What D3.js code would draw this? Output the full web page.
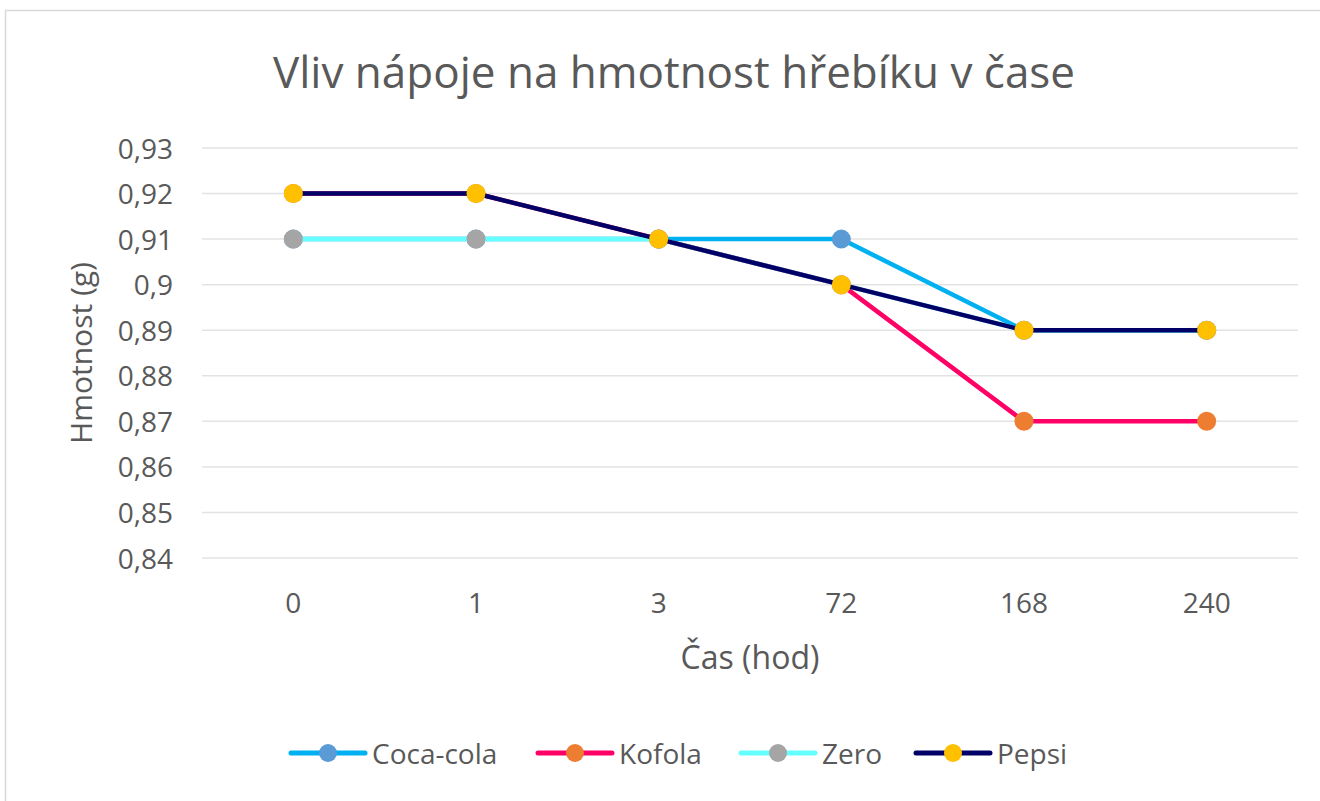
<!DOCTYPE html>
<html>
<head>
<meta charset="utf-8">
<script src="https://cdn.jsdelivr.net/npm/d3@7"></script>
<style>
  body { margin: 0; background: #fff; }
  text { font-family: "Open Sans", "Liberation Sans", sans-serif; fill: #595959; }
</style>
</head>
<body>
<div id="chart"></div>
<script>
// Data
var hours = ["0", "1", "3", "72", "168", "240"];
var cocaCola = [0.91, 0.91, 0.91, 0.91, 0.89, 0.89];
var kofola = [0.92, 0.92, 0.91, 0.90, 0.87, 0.87];
var zero = [0.91, 0.91, 0.91, 0.90, 0.89, 0.89];
var pepsi = [0.92, 0.92, 0.91, 0.90, 0.89, 0.89];
var yTicks = [0.84, 0.85, 0.86, 0.87, 0.88, 0.89, 0.90, 0.91, 0.92, 0.93];

var seriesNames = ["Coca-cola", "Kofola", "Zero", "Pepsi"];
var seriesValues = [cocaCola, kofola, zero, pepsi];
var lineColors = ["#00B0F0", "#FF0066", "#66FFFF", "#000066"];
var markerColors = ["#5B9BD5", "#ED7D31", "#A5A5A5", "#FFC000"];

var width = 1320, height = 801;
var plot = { left: 202, right: 1298, top: 148, bottom: 558 };

var svg = d3.select("#chart")
    .append("svg")
    .attr("width", width)
    .attr("height", height);

// chart frame
svg.append("rect")
    .attr("x", 5.5)
    .attr("y", 10.5)
    .attr("width", 1340)
    .attr("height", 800)
    .attr("fill", "#fff")
    .attr("stroke", "#D9D9D9")
    .attr("stroke-width", 1.5);

var x = d3.scaleBand()
    .domain(hours)
    .range([plot.left, plot.right]);

var y = d3.scaleLinear()
    .domain([0.84, 0.93])
    .range([plot.bottom, plot.top]);

// gridlines
svg.append("g")
    .selectAll("line")
    .data(yTicks)
    .enter()
    .append("line")
    .attr("x1", plot.left)
    .attr("x2", plot.right)
    .attr("y1", function(d) { return y(d); })
    .attr("y2", function(d) { return y(d); })
    .attr("stroke", "#E3E3E3")
    .attr("stroke-width", 1.5);

// y axis labels
var fmt = function(d) { return d3.format(".2~f")(d).replace(".", ","); };
var yAxis = svg.append("g")
    .attr("transform", "translate(" + (plot.left - 29) + ",0)")
    .call(d3.axisLeft(y).tickValues(yTicks).tickFormat(fmt).tickSize(0).tickPadding(0));
yAxis.select(".domain").remove();
yAxis.selectAll("text")
    .attr("dy", 10)
    .style("font-size", "28px")
    .style("fill", "#595959")
    .style("font-family", null);

// x axis labels
var xAxis = svg.append("g")
    .attr("transform", "translate(0," + (plot.bottom + 55) + ")")
    .call(d3.axisBottom(x).tickSize(0).tickPadding(0));
xAxis.select(".domain").remove();
xAxis.selectAll("text")
    .attr("dy", 0)
    .style("font-size", "28px")
    .style("fill", "#595959")
    .style("font-family", null);

// titles
svg.append("text")
    .attr("x", 674)
    .attr("y", 88)
    .attr("text-anchor", "middle")
    .style("font-size", "44px")
    .text("Vliv nápoje na hmotnost hřebíku v čase");

svg.append("text")
    .attr("x", (plot.left + plot.right) / 2)
    .attr("y", 669)
    .attr("text-anchor", "middle")
    .style("font-size", "32px")
    .text("Čas (hod)");

svg.append("text")
    .attr("transform", "translate(92," + ((plot.top + plot.bottom) / 2) + ") rotate(-90)")
    .attr("text-anchor", "middle")
    .style("font-size", "30px")
    .text("Hmotnost (g)");

// lines and markers
var line = d3.line()
    .x(function(d, i) { return x(hours[i]) + x.bandwidth() / 2; })
    .y(function(d) { return y(d); });

seriesValues.forEach(function(vals, s) {
    var g = svg.append("g");
    g.append("path")
        .datum(vals)
        .attr("d", line)
        .attr("fill", "none")
        .attr("stroke", lineColors[s])
        .attr("stroke-width", 4.5)
        .attr("stroke-linejoin", "round");
    g.selectAll("circle")
        .data(vals)
        .enter()
        .append("circle")
        .attr("cx", function(d, i) { return x(hours[i]) + x.bandwidth() / 2; })
        .attr("cy", function(d) { return y(d); })
        .attr("r", 9.5)
        .attr("fill", markerColors[s]);
});

// legend
var legendX = [291, 538, 741, 916];
var legend = svg.append("g").attr("transform", "translate(0,753)");
seriesNames.forEach(function(name, s) {
    var item = legend.append("g").attr("transform", "translate(" + legendX[s] + ",0)");
    item.append("line")
        .attr("x1", 0).attr("x2", 74)
        .attr("y1", 0).attr("y2", 0)
        .attr("stroke", lineColors[s])
        .attr("stroke-width", 5)
        .attr("stroke-linecap", "round");
    item.append("circle")
        .attr("cx", 37).attr("cy", 0)
        .attr("r", 9)
        .attr("fill", markerColors[s]);
    item.append("text")
        .attr("x", 81)
        .attr("y", 11)
        .style("font-size", "28px")
        .text(name);
});
</script>
</body>
</html>
